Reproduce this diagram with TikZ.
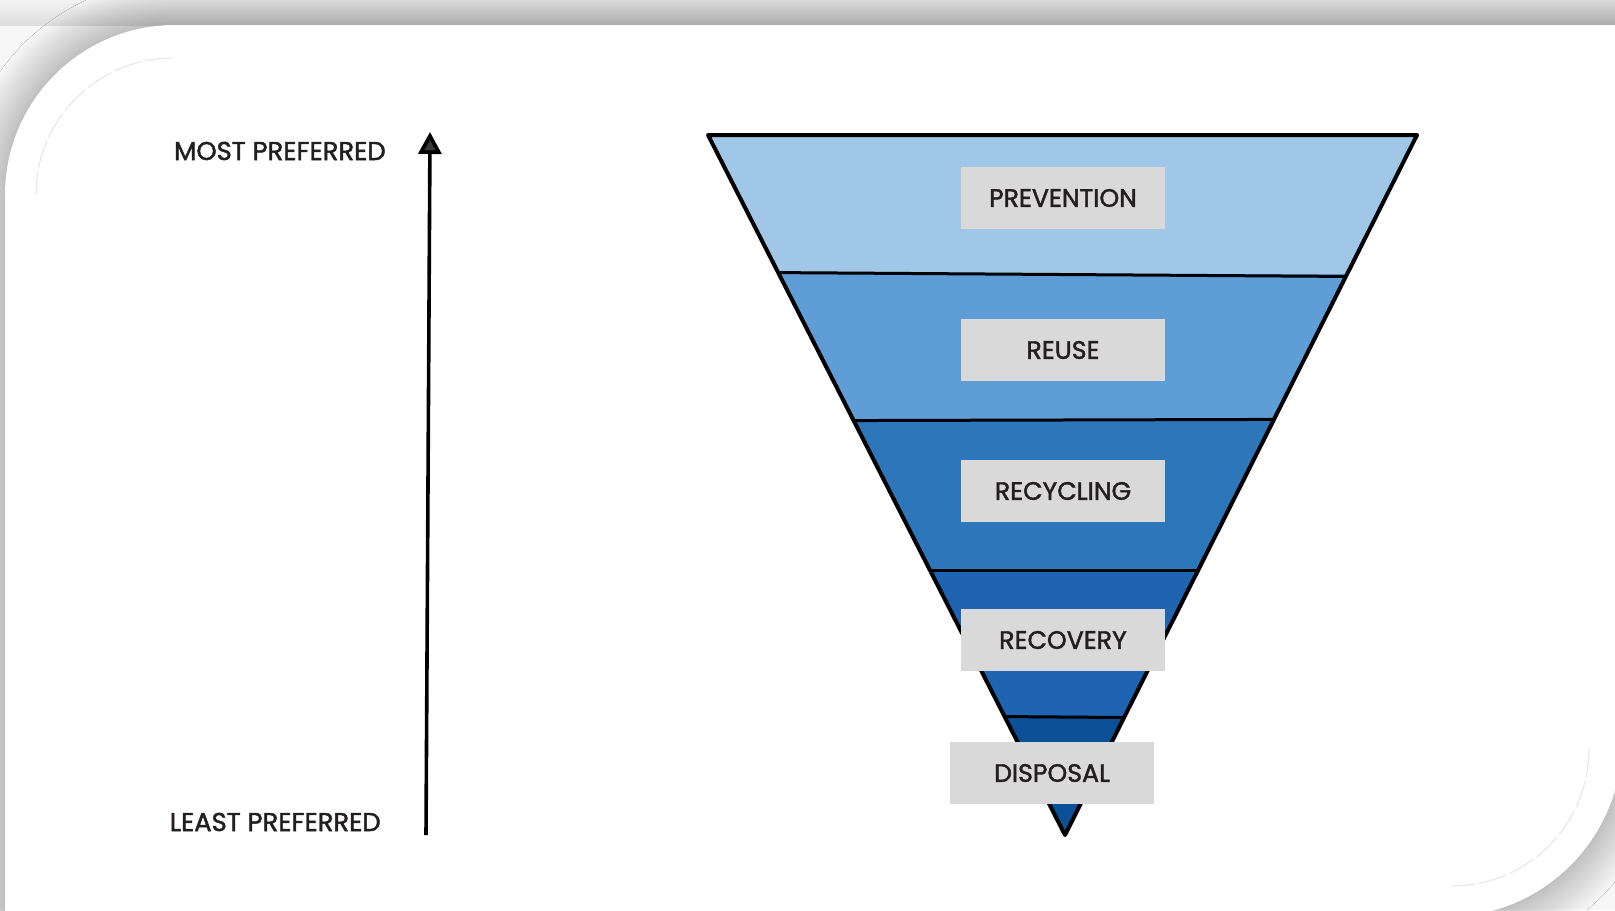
\documentclass[tikz,border=0pt]{standalone}
\usepackage{fontspec}
\setmainfont{Poppins}[UprightFeatures={FakeBold=1.8}]
\usetikzlibrary{arrows.meta,positioning,shadows.blur}
\definecolor{ink}{HTML}{231F20}
\definecolor{tagfill}{HTML}{D9D9D9}
\definecolor{bandA}{HTML}{A0C7E8}
\definecolor{bandB}{HTML}{5F9DD6}
\definecolor{bandC}{HTML}{2E76BA}
\definecolor{bandD}{HTML}{1E64B0}
\definecolor{bandE}{HTML}{0C5097}

\begin{document}
\begin{tikzpicture}[x=0.5pt, y=-0.5pt,
  tier/.style={fill=tagfill, text=ink, minimum width=102pt, minimum height=31pt, inner sep=0pt, font=\fontsize{12.6}{14}\selectfont},
  pref/.style={text=ink, anchor=east, inner sep=0pt, font=\fontsize{12.9}{14}\selectfont},
  rim/.style={line width=2pt, line join=round, line cap=round},
  seam/.style={line width=1.5pt}]
  \useasboundingbox (0,0) rectangle (1615,910);

  % page and card
  \fill[gray!6] (0,0) rectangle (1615,910);
  \shade[top color=gray!10, bottom color=gray!26] (0,0) rectangle (1615,25);
  \path[fill=white, blur shadow={shadow xshift=0pt, shadow yshift=0pt, shadow blur radius=22pt, shadow blur steps=40, shadow opacity=45}]
    (5,917) -- (5,195) arc[start angle=180, end angle=270, radius=170] -- (1622,25)
    -- (1622,741) arc[start angle=0, end angle=90, radius=176] -- cycle;
  \draw[gray!20, line width=0.5pt, dash pattern=on 14pt off 2pt] (173,58) arc[start angle=270, end angle=180, radius=137];
  \draw[gray!20, line width=0.5pt, dash pattern=on 14pt off 2pt] (1589,749) arc[start angle=0, end angle=90, radius=137];

  % funnel
  \coordinate (fl) at (708,135);
  \coordinate (fr) at (1417,135);
  \coordinate (ft) at (1065,835);
  \begin{scope}
    \clip (fl) -- (fr) -- (ft) -- cycle;
    \fill[bandA] (690,120) rectangle (1430,274);
    \fill[bandB] (690,274) rectangle (1430,420);
    \fill[bandC] (690,420) rectangle (1430,570);
    \fill[bandD] (690,570) rectangle (1430,717);
    \fill[bandE] (690,717) rectangle (1430,850);
    \draw[seam] (690,272) -- (1430,277);
    \draw[seam] (690,421) -- (1430,419);
    \draw[seam] (690,570) -- (1430,570);
    \draw[seam] (690,714) -- (1430,720);
  \end{scope}
  \draw[rim] (fl) -- (fr) -- (ft) -- cycle;

  \foreach \nm/\txt/\cx/\cy in {prev/PREVENTION/1063/198, reuse/REUSE/1063/350, recyc/RECYCLING/1063/491, recov/RECOVERY/1063/640, disp/DISPOSAL/1052/773}
    \node[tier] (\nm) at (\cx,\cy) {\txt};

  % preference axis
  \coordinate (low) at (426,835);
  \coordinate (high) at (430,132);
  \draw[line width=1.8pt, -{Triangle[length=11pt, width=11.5pt]}] (low) -- (high);
  \node[pref] (most) at (386,151) {MOST PREFERRED};
  \node[pref] (least) at (381,822) {LEAST PREFERRED};
\end{tikzpicture}
\end{document}
